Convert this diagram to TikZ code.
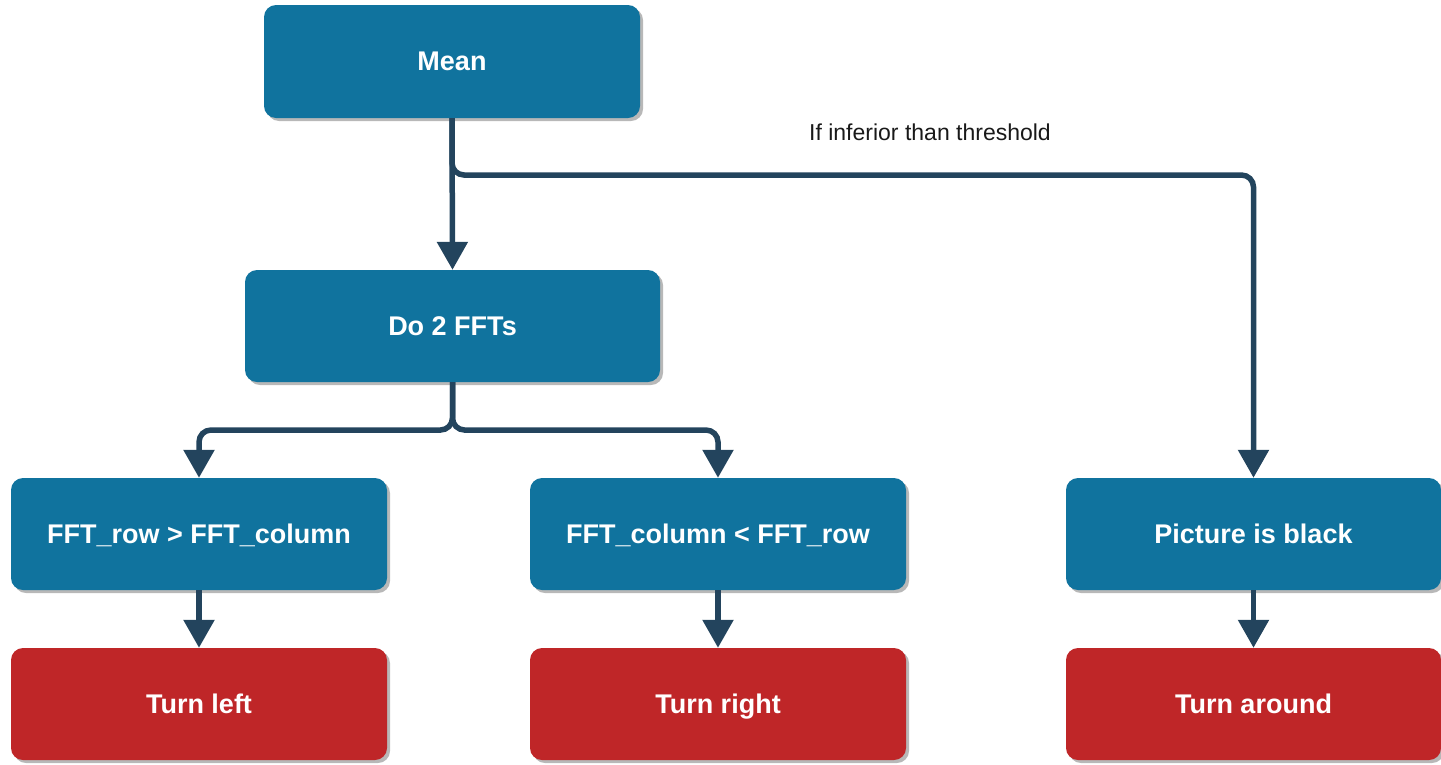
\documentclass[tikz,border=0pt]{standalone}
\usepackage{fontspec}
\setmainfont{Liberation Sans}
\usetikzlibrary{arrows.meta,shadows}
\definecolor{boxblue}{HTML}{10739E}
\definecolor{boxred}{HTML}{BF2628}
\definecolor{linec}{HTML}{23445D}
\begin{document}
\begin{tikzpicture}[x=1pt,y=-1pt,
  box/.style={rectangle, rounded corners=12pt, fill=boxblue, inner sep=0pt,
    minimum width=376pt, minimum height=112pt, text=white,
    text height=21pt, text depth=3pt,
    font=\fontsize{27}{31}\selectfont\bfseries,
    drop shadow={shadow xshift=3pt,shadow yshift=-3pt,fill=black!28,opacity=1}},
  redbox/.style={box, fill=boxred},
  conn/.style={draw=linec, line width=5.5pt, rounded corners=12pt,
    -{Triangle[width=30pt,length=28pt]}},
  lbl/.style={font=\fontsize{23}{26}\selectfont, text=black!90}]
\useasboundingbox (0,0) rectangle (1441,764);
\node[box, minimum height=113pt] (mean) at (452,61.5) {Mean};
\node[box, minimum width=415pt] (fft) at (452.5,326) {Do 2 FFTs};
\node[box] (rowc) at (199,534) {FFT\_row > FFT\_column};
\node[box] (colr) at (718,534) {FFT\_column < FFT\_row};
\node[box, minimum width=375pt] (pic) at (1253.5,534) {Picture is black};
\node[redbox] (tleft) at (199,704) {Turn left};
\node[redbox] (tright) at (718,704) {Turn right};
\node[redbox, minimum width=375pt] (taround) at (1253.5,704) {Turn around};
\node[lbl] (thr) at (930,132) {If inferior than threshold};
\coordinate (br) at (1253.5,175);
\coordinate (j1) at (452.5,430);
\draw[conn] (mean.south) -- (fft.north);
\draw[conn] (mean.south) |- (br) -- (pic.north);
\draw[conn] (fft.south) -- (j1) -| (rowc.north);
\draw[conn] (fft.south) -- (j1) -| (colr.north);
\draw[conn] (rowc.south) -- (tleft.north);
\draw[conn] (colr.south) -- (tright.north);
\draw[conn] (pic.south) -- (taround.north);
\end{tikzpicture}
\end{document}
